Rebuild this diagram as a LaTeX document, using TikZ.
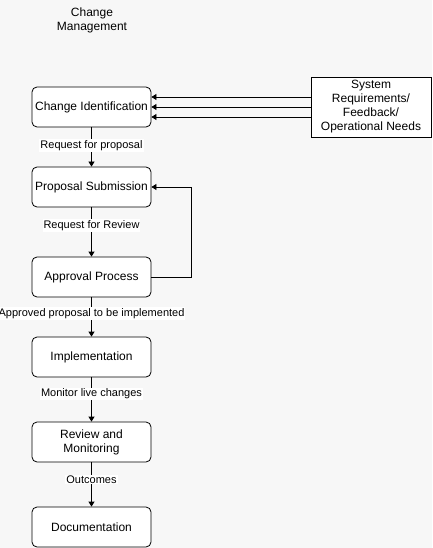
\documentclass[tikz,border=0pt]{standalone}
\usepackage{fontspec}
\setmainfont{Liberation Sans}
\usetikzlibrary{arrows.meta}
\definecolor{bg}{HTML}{F7F7F7}
\begin{document}
\begin{tikzpicture}[x=1bp,y=-1bp,
  stepbox/.style={draw=black,fill=white,rounded corners=5bp,minimum width=119bp,minimum height=40bp,inner sep=1bp,align=center,font=\fontsize{12bp}{14bp}\selectfont,line width=0.8bp},
  srcbox/.style={draw=black,fill=white,minimum width=120bp,minimum height=60bp,inner sep=1bp,align=center,font=\fontsize{12bp}{14bp}\selectfont,line width=0.8bp},
  conn/.style={-{Triangle[length=5bp,width=6bp]},line width=0.8bp},
  lbl/.style={fill=white,inner sep=1bp,font=\fontsize{11bp}{13bp}\selectfont}]
\fill[bg] (0,0) rectangle (432,548);
\useasboundingbox (0,0) rectangle (432,548);
\node[align=center,font=\fontsize{12bp}{14bp}\selectfont] (title) at (92,20) {Change\\Management};
\node[stepbox] (ci) at (91.5,107) {Change Identification};
\node[stepbox] (ps) at (91.5,187) {Proposal Submission};
\node[stepbox] (ap) at (91.5,277) {Approval Process};
\node[stepbox] (im) at (91.5,357) {Implementation};
\node[stepbox] (rm) at (91.5,442) {Review and\\Monitoring};
\node[stepbox] (doc) at (91.5,527) {Documentation};
\node[srcbox] (sr) at (371,107) {System\\Requirements/\\Feedback/\\Operational Needs};
\draw[conn] ([yshift=-10bp]sr.west) -- ([yshift=-10bp]ci.east);
\draw[conn] (sr.west) -- (ci.east);
\draw[conn] ([yshift=10bp]sr.west) -- ([yshift=10bp]ci.east);
\draw[conn] (ci) -- node[lbl,yshift=1.5bp] {Request for proposal} (ps);
\draw[conn] (ps) -- node[lbl,yshift=6.5bp] {Request for Review} (ap);
\draw[conn] (ap) -- node[lbl,yshift=3.5bp] {Approved proposal to be implemented} (im);
\draw[conn] (im) -- node[lbl,yshift=5.5bp] {Monitor live changes} (rm);
\draw[conn] (rm) -- node[lbl,yshift=5bp] {Outcomes} (doc);
\coordinate (fbk) at (191,0);
\draw[conn] (ap.east) -- (ap.east -| fbk) -- (ps.east -| fbk) -- (ps.east);
\end{tikzpicture}
\end{document}
